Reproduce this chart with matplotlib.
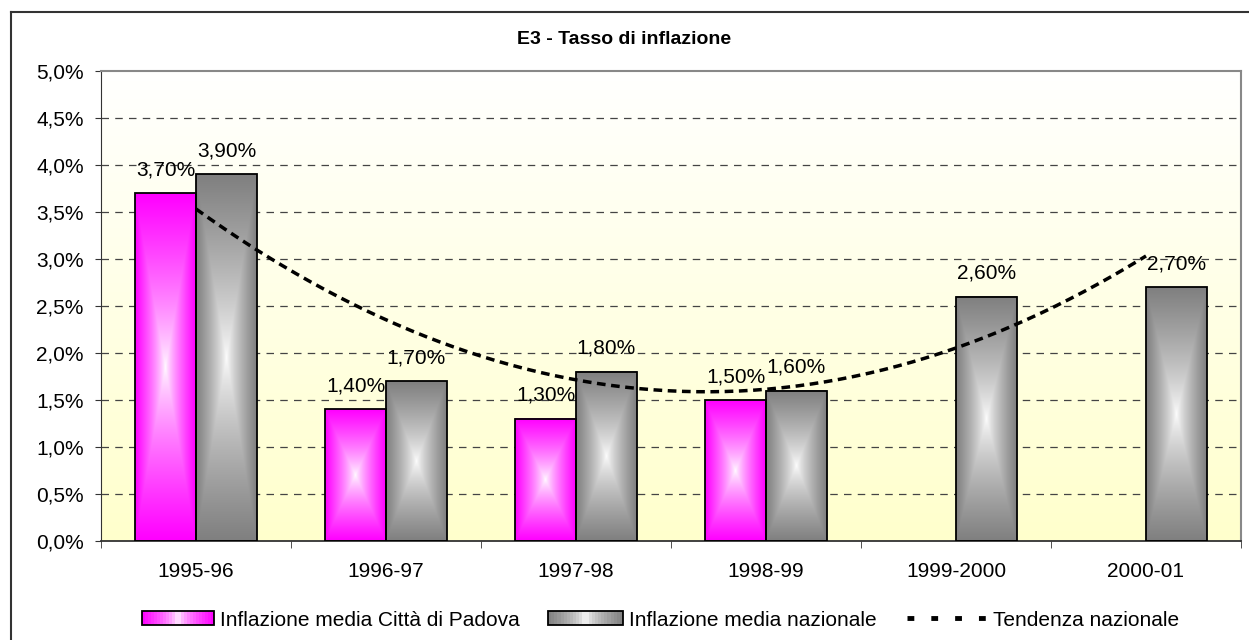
import matplotlib.pyplot as plt
import numpy as np
from matplotlib.lines import Line2D
from matplotlib.patches import Patch, Rectangle
from matplotlib.legend_handler import HandlerBase
from matplotlib.ticker import FuncFormatter, FixedLocator

plt.rcParams['font.family'] = ['Liberation Sans', 'DejaVu Sans']

# dati
categorie = ['1995-96', '1996-97', '1997-98', '1998-99', '1999-2000', '2000-01']
padova = [3.7, 1.4, 1.3, 1.5, None, None]
nazionale = [3.9, 1.7, 1.8, 1.6, 2.6, 2.7]
titolo = 'E3 - Tasso di inflazione'
etichette_legenda = ['Inflazione media Città di Padova', 'Inflazione media nazionale', 'Tendenza nazionale']

MAGENTA = (1.0, 0.0, 1.0)
GRIGIO = (0.5, 0.5, 0.5)

W, H = 1249, 640
fig = plt.figure(figsize=(W / 100, H / 100), dpi=100)
ax = fig.add_axes([101 / W, 1 - 541 / H, (1241 - 101) / W, (541 - 71) / H])


def gradiente_rett(colore, n=120):
    # gradiente "dal centro": bianco al centro, colore pieno ai bordi
    u = np.linspace(-1, 1, n)
    xx, yy = np.meshgrid(u, u)
    t = np.maximum(np.abs(xx), np.abs(yy)) ** 0.75
    c = np.array(colore)
    return (1 - t[..., None]) * np.ones(3) + t[..., None] * c


class HandlerGradiente(HandlerBase):
    # patch della legenda con gradiente orizzontale
    def __init__(self, colore, n=24):
        super().__init__()
        self.colore = np.array(colore)
        self.n = n

    def create_artists(self, legend, orig_handle, xdescent, ydescent, width, height, fontsize, trans):
        out = []
        for i in range(self.n):
            t = abs((i + 0.5) / self.n * 2 - 1) ** 0.6
            col = (1 - t) * np.ones(3) + t * self.colore
            out.append(Rectangle((-xdescent + i * width / self.n, -ydescent), width / self.n + 0.3, height,
                                 facecolor=col, edgecolor='none', transform=trans))
        out.append(Rectangle((-xdescent, -ydescent), width, height, facecolor='none',
                             edgecolor='black', linewidth=1.3, transform=trans))
        return out


# sfondo area del grafico: bianco in alto, giallo chiaro in basso
sfondo = np.linspace(0, 1, 256)[:, None, None] * (np.array([1, 1, 0.80]) - 1) + 1
sfondo = np.repeat(sfondo, 2, axis=1)
ax.imshow(sfondo, extent=[0, 1, 0, 1], transform=ax.transAxes, aspect='auto',
          zorder=0, origin='upper')

x = np.arange(len(categorie))
w = 0.32
pad_vals = np.array([np.nan if v is None else v for v in padova])
naz_vals = np.array(nazionale)

b1 = ax.bar(x - w / 2, pad_vals, w, facecolor='none', edgecolor='black', linewidth=1.3, zorder=3)
b2 = ax.bar(x + w / 2, naz_vals, w, facecolor='none', edgecolor='black', linewidth=1.3, zorder=3)

for bars, grad in ((b1, gradiente_rett(MAGENTA)), (b2, gradiente_rett(GRIGIO))):
    for p in bars:
        h = p.get_height()
        if not np.isfinite(h):
            continue
        x0 = p.get_x()
        ax.imshow(grad, extent=[x0, x0 + p.get_width(), 0, h], aspect='auto',
                  zorder=2, interpolation='bilinear')

# etichette dei valori
for bars, vals in ((b1, pad_vals), (b2, naz_vals)):
    for p, v in zip(bars, vals):
        if not np.isfinite(v):
            continue
        ax.annotate(f'{v:.2f}%'.replace('.', ','), (p.get_x() + p.get_width() / 2, v),
                    xytext=(0, 10), textcoords='offset points', ha='center', va='bottom',
                    fontsize=15, zorder=5)

# linea di tendenza polinomiale (ordine 2) sui dati nazionali
coef = np.polyfit(x, naz_vals, 2)
xt = np.linspace(x[0], x[-1], 200)
ax.plot(xt, np.polyval(coef, xt), color='black', linewidth=2.5,
        linestyle=(0, (2.5, 1.6)), zorder=4)

ax.set_xlim(-0.5, len(categorie) - 0.5)
ax.set_ylim(0, 5.0)
ax.set_yticks(np.arange(0, 5.01, 0.5))
ax.yaxis.set_major_formatter(FuncFormatter(lambda v, _: f'{v:.1f}%'.replace('.', ',')))
ax.set_xticks(x)
ax.set_xticklabels(categorie)
ax.xaxis.set_minor_locator(FixedLocator(np.arange(-0.5, len(categorie), 1.0)))
ax.tick_params(axis='x', which='major', length=0, pad=15, labelsize=15)
ax.tick_params(axis='x', which='minor', length=5, direction='out', color='#333333')
ax.tick_params(axis='y', length=4.5, pad=8, direction='out', labelsize=15, color='#333333')

for g in np.arange(0.5, 4.6, 0.5):
    ax.axhline(g, color='#444444', linewidth=0.9, linestyle=(0, (6, 5)), zorder=1)

for s in ('top', 'right'):
    ax.spines[s].set_color('#888888')
    ax.spines[s].set_linewidth(1.5)
ax.spines['left'].set_color('#333333')
ax.spines['bottom'].set_color('#333333')
ax.spines['bottom'].set_linewidth(1.3)

fig.text(0.5, 1 - 40 / H, titolo, ha='center', va='center', fontsize=14, fontweight='bold')

# legenda: tre voci posizionate separatamente come in Excel
voci = [
    (Patch(facecolor='none'), {Patch: HandlerGradiente(MAGENTA)}, 142, 3.45),
    (Patch(facecolor='none'), {Patch: HandlerGradiente(GRIGIO)}, 548, 3.6),
    (Line2D([], [], color='black', linewidth=3.5, linestyle=(0, (1.4, 3.5)),
            dash_capstyle='butt'), None, 907, 3.85),
]
for (h, hm, px, hl), lab in zip(voci, etichette_legenda):
    fig.legend([h], [lab], loc='center left', bbox_to_anchor=(px / W, 1 - 620 / H),
               frameon=False, fontsize=15, handlelength=hl, handleheight=0.65,
               handletextpad=0.3, borderpad=0, borderaxespad=0, handler_map=hm)

# bordo esterno del grafico
fig.add_artist(Line2D([11 / W, 11 / W], [0, 1 - 12 / H], color='#333333', linewidth=1.5))
fig.add_artist(Line2D([11 / W, 1], [1 - 12 / H, 1 - 12 / H], color='#333333', linewidth=1.5))

fig.savefig('out.png', dpi=100)
